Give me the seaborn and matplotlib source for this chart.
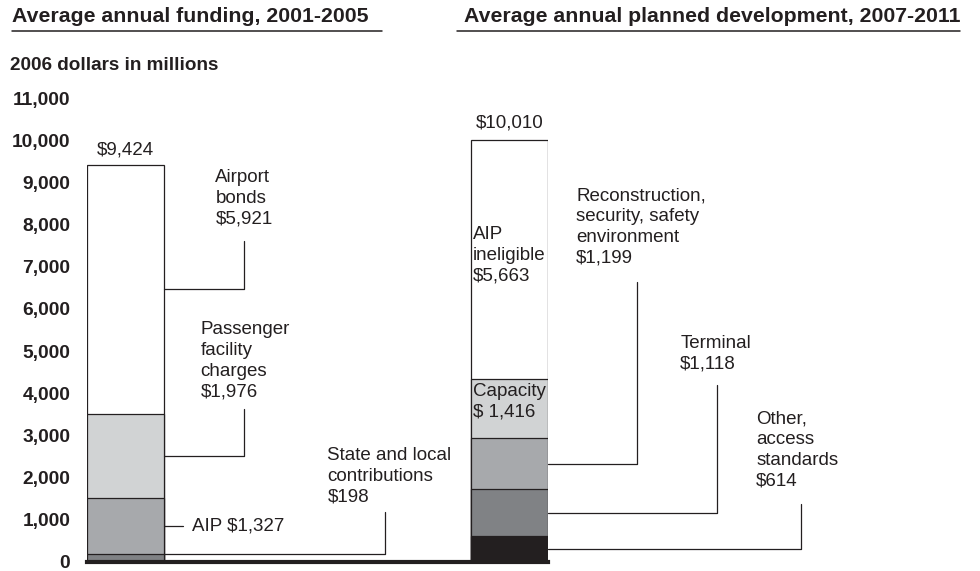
import matplotlib
matplotlib.use("Agg")
import matplotlib.pyplot as plt
from matplotlib.lines import Line2D
import seaborn as sns
import pandas as pd
import numpy as np

sns.set_theme(style="white")
plt.rcParams["font.family"] = ["Liberation Sans", "DejaVu Sans"]

# ---- data -------------------------------------------------------------
periods = ["2001-2005", "2007-2011"]

funding_parts = ["State and local contributions", "AIP", "Passenger facility charges", "Airport bonds"]
funding_values = [198, 1327, 1976, 5921]
funding_total = 9424

planned_parts = ["Other, access standards", "Terminal", "Reconstruction, security, safety environment",
                 "Capacity", "AIP ineligible"]
planned_values = [614, 1118, 1199, 1416, 5663]
planned_total = 10010

funding_colors = ["#808285", "#a7a9ac", "#d1d3d4", "#ffffff"]
planned_colors = ["#231f20", "#808285", "#a7a9ac", "#d1d3d4", "#ffffff"]

y_ticks = list(range(0, 11001, 1000))

# ---- figure -----------------------------------------------------------
W, H = 980, 571
fig = plt.figure(figsize=(W / 100, H / 100), dpi=100)
ax = fig.add_axes([87 / W, (H - 562) / H, (548 - 87) / W, (562 - 98) / H])

INK = "#231f20"
BAR_W = 0.201

def draw_stack(period, parts, values, colors):
    tops = np.cumsum(values)
    # draw from tallest cumulative bar down so lower segments sit on top
    for name, top, col in reversed(list(zip(parts, tops, colors))):
        df = pd.DataFrame({"period": [period], "top": [top]})
        sns.barplot(data=df, x="period", y="top", order=periods, color=col,
                    saturation=1, width=BAR_W, edgecolor=INK, linewidth=0.9,
                    ax=ax, zorder=2)
    return tops

f_tops = draw_stack(periods[0], funding_parts, funding_values, funding_colors)
p_tops = draw_stack(periods[1], planned_parts, planned_values, planned_colors)

ax.set_xlim(-BAR_W / 2, 1 + BAR_W / 2)
ax.set_ylim(0, 11000)
ax.set_xlabel("")
ax.set_ylabel("")
ax.set_xticks([])
ax.set_yticks(y_ticks)
ax.set_yticklabels([f"{v:,}" for v in y_ticks], fontsize=13.8, fontweight="bold", color=INK)
ax.tick_params(axis="y", length=0, pad=12)
for s in ["top", "right", "left"]:
    ax.spines[s].set_visible(False)
ax.spines["bottom"].set_color(INK)
ax.spines["bottom"].set_linewidth(3)
ax.spines["bottom"].set_zorder(5)
ax.grid(False)

TXT = dict(fontsize=13.5, color=INK, linespacing=1.3)
LINE = dict(color=INK, linewidth=0.9, clip_on=False, zorder=3)

def seg_mid(tops, values, i, frac=0.5):
    return tops[i] - values[i] + values[i] * frac

def callout(bar_x, y_val, elbow_x, top_y):
    ax.plot([bar_x, elbow_x, elbow_x], [y_val, y_val, top_y], **LINE)

L_EDGE = BAR_W / 2
R_EDGE = 1 + BAR_W / 2

# totals above the bars
ax.annotate(f"${funding_total:,}", (0, funding_total), xytext=(0, 4), textcoords="offset points",
            ha="center", va="bottom", **TXT)
ax.annotate(f"${planned_total:,}", (1, planned_total), xytext=(0, 6), textcoords="offset points",
            ha="center", va="bottom", **TXT)

# left bar labels
ax.text(0.234, 9317, f"Airport\nbonds\n${funding_values[3]:,}", ha="left", va="top", **TXT)
callout(L_EDGE, seg_mid(f_tops, funding_values, 3), 0.309, 7610)

ax.text(0.195, 5713, f"Passenger\nfacility\ncharges\n${funding_values[2]:,}", ha="left", va="top", **TXT)
callout(L_EDGE, seg_mid(f_tops, funding_values, 2), 0.309, 3627)

aip_y = seg_mid(f_tops, funding_values, 1)
ax.plot([L_EDGE, 0.150], [aip_y, aip_y], **LINE)
ax.text(0.174, aip_y, f"AIP ${funding_values[1]:,}", ha="left", va="center", **TXT)

ax.text(0.526, 2726, f"State and local\ncontributions\n${funding_values[0]:,}", ha="left", va="top", **TXT)
callout(L_EDGE, seg_mid(f_tops, funding_values, 0, 0.95), 0.675, 1185)

# right bar labels
ax.text(0.905, 7965, f"AIP\nineligible\n${planned_values[4]:,}", ha="left", va="top", zorder=4, **TXT)
ax.text(0.905, 4244, f"Capacity\n$ {planned_values[3]:,}", ha="left", va="top", zorder=4, **TXT)

ax.text(1.174, 8890, f"Reconstruction,\nsecurity, safety\nenvironment\n${planned_values[2]:,}",
        ha="left", va="top", **TXT)
callout(R_EDGE, seg_mid(p_tops, planned_values, 2), 1.333, 6638)

ax.text(1.445, 5382, f"Terminal\n${planned_values[1]:,}", ha="left", va="top", **TXT)
callout(R_EDGE, seg_mid(p_tops, planned_values, 1), 1.542, 4196)

ax.text(1.643, 3603, f"Other,\naccess\nstandards\n${planned_values[0]:,}", ha="left", va="top", **TXT)
callout(R_EDGE, seg_mid(p_tops, planned_values, 0), 1.760, 1375)

# headings with rules
fig.text(12 / W, 1 - 17 / H, "Average annual funding, 2001-2005", fontsize=15.3,
         fontweight="bold", color=INK, ha="left", va="center")
fig.add_artist(Line2D([12 / W, 382 / W], [1 - 31 / H, 1 - 31 / H], color=INK, linewidth=1.1))
fig.text(960 / W, 1 - 17 / H, "Average annual planned development, 2007-2011", fontsize=15.3,
         fontweight="bold", color=INK, ha="right", va="center")
fig.add_artist(Line2D([457 / W, 960 / W], [1 - 31 / H, 1 - 31 / H], color=INK, linewidth=1.1))

fig.text(10 / W, 1 - 66 / H, "2006 dollars in millions", fontsize=13.6, fontweight="bold",
         color=INK, ha="left", va="center")

fig.savefig("out.png", dpi=100, facecolor="white")
